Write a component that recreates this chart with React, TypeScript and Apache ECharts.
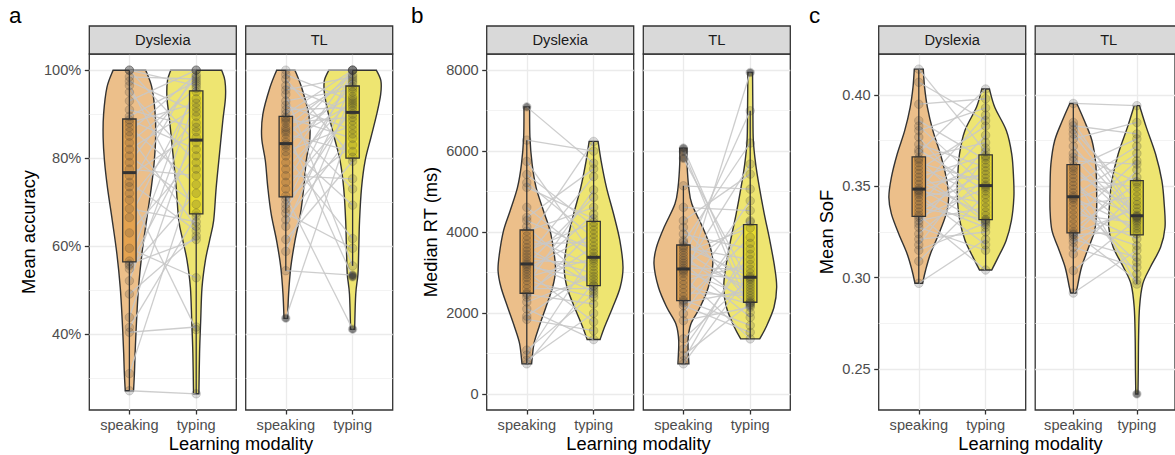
import React, { useEffect, useRef } from 'react';
import * as echarts from 'echarts';

// ---------- labels ----------
const modalities = ['speaking', 'typing'];
const groups = ['Dyslexia', 'TL'];
const xTitle = 'Learning modality';
const panelLetters = ['a', 'b', 'c'];
const yTitles = ['Mean accuracy', 'Median RT (ms)', 'Mean SoF'];
const yTickValues = [[40, 60, 80, 100], [0, 2000, 4000, 6000, 8000], [0.25, 0.3, 0.35, 0.4]];
const yLimits = [[22.72, 103.68], [-400, 8400], [0.2275, 0.4225]];

// ---------- panel a: mean accuracy (%) — paired per participant ----------
const accDysSpeaking = [27.1, 31.0, 40.4, 41.5, 43.8, 49.1, 52.1, 54.8, 55.6, 55.9, 56.6, 59.5, 63, 66.5, 68.5, 70.5, 72, 73.5, 74.5, 76, 77.5, 79, 80.5, 82, 83.5, 85, 86, 87, 88, 88.7, 89.5, 91, 93, 95, 96.5, 97.5, 98.5, 100, 100, 100];
const accDysTyping = [26.4, 77.5, 41.6, 66.8, 88, 62.3, 93.5, 72, 84.7, 61.5, 97, 52.8, 80.5, 95.1, 65.5, 89.5, 41.0, 100, 63.5, 86, 76, 98.5, 69.5, 91.5, 95.9, 64.5, 99, 74, 92.5, 82, 97.5, 87, 100, 79, 67.5, 90.5, 98, 100, 83.5, 96.5];
const accTLSpeaking = [43.6, 54.4, 58.8, 61.5, 64.5, 66, 67.5, 68.5, 69.5, 70.6, 71.4, 73, 74.5, 76, 77.5, 79, 80.5, 81.5, 82.5, 83, 83.6, 84.5, 85.5, 86, 86.5, 87, 88, 88.5, 89, 89.3, 90.1, 91, 92, 93, 94.5, 95.5, 96.5, 98, 99, 100];
const accTLTyping = [88.5, 53.4, 95, 79.3, 97, 85.5, 59.5, 92, 100, 83, 41.1, 90.8, 98, 75.3, 93.5, 100, 61.7, 87.5, 96.2, 69.3, 92.5, 100, 81.5, 94, 53.0, 99, 89.3, 73, 97.5, 84.5, 100, 91.5, 86.5, 95.7, 55.5, 98.5, 90, 80.2, 93, 100];
// box stats: [lower whisker, Q1, median, Q3, upper whisker] for speaking, typing
const accDysBox = [[27.1, 56.4, 76.7, 88.9, 100], [26.4, 67.3, 84.1, 95.3, 100]];
const accTLBox = [[54.4, 71.2, 83.3, 89.5, 100], [55.5, 80.0, 90.4, 96.4, 100]];
const accDysOutliers = [[], []];
const accTLOutliers = [[43.6], [53.0, 53.4, 41.1]];
// violin outlines: [value, half-width in category units]
const accDysSpeakingViolin = [[100, 0.244], [96.1, 0.336], [90, 0.386], [84.7, 0.393], [79.4, 0.373], [73.3, 0.328], [65.8, 0.256], [58.2, 0.187], [50.6, 0.137], [43, 0.107], [35.5, 0.085], [30.9, 0.075], [27.1, 0.062]];
const accDysTypingViolin = [[100, 0.381], [97.6, 0.43], [93.8, 0.438], [88.5, 0.398], [80.9, 0.348], [73.3, 0.299], [65.8, 0.261], [61.2, 0.199], [56.7, 0.137], [50.6, 0.087], [43, 0.067], [35.5, 0.05], [26.4, 0.04]];
const accTLSpeakingViolin = [[100, 0.137], [96.1, 0.236], [90, 0.343], [84.7, 0.361], [79.4, 0.306], [73.3, 0.269], [67.3, 0.219], [61.2, 0.137], [55.2, 0.075], [49.1, 0.042], [43.6, 0.027]];
const accTLTypingViolin = [[100, 0.356], [97.6, 0.423], [94.5, 0.42], [90, 0.361], [84.7, 0.274], [79.4, 0.187], [73.3, 0.134], [65.8, 0.104], [58.2, 0.09], [53.6, 0.08], [49.1, 0.047], [41.1, 0.03]];

// ---------- panel b: median RT (ms) ----------
const rtDysSpeaking = [741, 830, 960, 1080, 1840, 1920, 2100, 2270, 2390, 2460, 2495, 2600, 2700, 2800, 2880, 2950, 3020, 3090, 3150, 3190, 3230, 3300, 3380, 3450, 3530, 3610, 3700, 3800, 3900, 4020, 4130, 4280, 4360, 4610, 5103, 5220, 5420, 5745, 6271, 7093];
const rtDysTyping = [2750, 1990, 3480, 2470, 1560, 3060, 1341, 2900, 4050, 2220, 3650, 2600, 5040, 2390, 3350, 4440, 1780, 3950, 2830, 4860, 2540, 3230, 5370, 2980, 4240, 2680, 3750, 6239, 3150, 4610, 2660, 3560, 5560, 3300, 4330, 3850, 4150, 3400, 6000, 5700];
const rtTLSpeaking = [741, 820, 950, 1110, 1360, 1810, 1980, 2180, 2250, 2290, 2320, 2400, 2500, 2600, 2700, 2800, 2900, 2980, 3030, 3060, 3110, 3170, 3230, 3290, 3350, 3420, 3490, 3560, 3620, 3660, 3740, 3785, 3950, 4115, 4280, 4610, 5142, 5820, 5990, 6074];
const rtTLTyping = [2980, 3720, 2240, 3450, 2860, 2140, 4250, 1520, 2560, 3870, 1690, 4770, 2420, 7943, 2210, 3200, 1358, 2830, 5679, 2350, 3080, 4280, 1890, 2630, 6995, 2180, 4100, 2490, 3320, 2900, 6200, 2770, 3580, 2255, 5430, 4530, 5060, 2700, 2010, 2290];
const rtDysBox = [[741, 2486, 3210, 4049, 6271], [1341, 2675, 3374, 4263, 6239]];
const rtTLBox = [[741, 2304, 3086, 3679, 5142], [1358, 2264, 2881, 4181, 6995]];
const rtDysOutliers = [[7093], []];
const rtTLOutliers = [[5820, 5990, 6074], [7943]];
const rtDysSpeakingViolin = [[7093, 0.042], [6337, 0.047], [5679, 0.08], [5103, 0.139], [4526, 0.249], [4032, 0.348], [3457, 0.41], [3044, 0.43], [2634, 0.386], [2140, 0.286], [1646, 0.182], [1235, 0.107], [741, 0.072]];
const rtDysTypingViolin = [[6239, 0.067], [5760, 0.112], [5103, 0.192], [4444, 0.299], [3785, 0.393], [3128, 0.44], [2634, 0.398], [2140, 0.286], [1646, 0.162], [1341, 0.097]];
const rtTLSpeakingViolin = [[6074, 0.055], [5679, 0.055], [5103, 0.08], [4691, 0.127], [4115, 0.289], [3622, 0.403], [3210, 0.44], [2634, 0.373], [2140, 0.249], [1728, 0.112], [1317, 0.07], [741, 0.082]];
const rtTLTypingViolin = [[7943, 0.035], [6995, 0.04], [6254, 0.047], [5679, 0.082], [5103, 0.137], [4444, 0.211], [3785, 0.294], [3128, 0.366], [2634, 0.396], [2140, 0.356], [1646, 0.236], [1358, 0.142]];

// ---------- panel c: mean SoF ----------
const sofDysSpeaking = [0.2969, 0.309, 0.315, 0.318, 0.321, 0.324, 0.3275, 0.3295, 0.3312, 0.333, 0.3342, 0.336, 0.338, 0.34, 0.342, 0.344, 0.3455, 0.3465, 0.3475, 0.348, 0.349, 0.351, 0.353, 0.355, 0.357, 0.359, 0.361, 0.363, 0.3645, 0.3655, 0.3685, 0.37, 0.373, 0.377, 0.3805, 0.383, 0.386, 0.395, 0.407, 0.4142];
const sofDysTyping = [0.321, 0.3455, 0.33, 0.366, 0.325, 0.3545, 0.315, 0.371, 0.3385, 0.349, 0.3042, 0.3585, 0.332, 0.378, 0.3275, 0.3508, 0.318, 0.3625, 0.341, 0.389, 0.329, 0.3565, 0.334, 0.3668, 0.3308, 0.383, 0.3435, 0.3525, 0.3315, 0.374, 0.4033, 0.3475, 0.3605, 0.336, 0.393, 0.35, 0.3645, 0.398, 0.386, 0.369];
const sofTLSpeaking = [0.2916, 0.3039, 0.313, 0.3166, 0.3193, 0.321, 0.3225, 0.3235, 0.324, 0.325, 0.327, 0.3295, 0.332, 0.3345, 0.337, 0.3395, 0.3415, 0.343, 0.3438, 0.3448, 0.3465, 0.3485, 0.3505, 0.3525, 0.3545, 0.3565, 0.3585, 0.36, 0.3612, 0.364, 0.366, 0.368, 0.372, 0.376, 0.3787, 0.381, 0.3832, 0.385, 0.3954, null];
const sofTLTyping = [0.315, 0.332, 0.347, 0.3057, 0.34, 0.3112, 0.359, 0.3255, 0.338, 0.2984, 0.3515, 0.3175, 0.364, 0.33, 0.3212, 0.3445, 0.3085, 0.355, 0.327, 0.368, 0.302, 0.3336, 0.372, 0.324, 0.3495, 0.2965, 0.336, 0.376, 0.3285, 0.3622, 0.331, 0.3525, 0.3328, 0.385, 0.3333, 0.342, 0.3787, 0.3342, 0.3942, 0.2363];
const sofDysBox = [[0.2969, 0.3336, 0.3485, 0.3662, 0.4142], [0.3042, 0.3318, 0.3504, 0.3673, 0.4033]];
const sofTLBox = [[0.2916, 0.3245, 0.3443, 0.3619, 0.3954], [0.2965, 0.3234, 0.3339, 0.3531, 0.3942]];
const sofDysOutliers = [[], []];
const sofTLOutliers = [[], [0.2363]];
const sofDysSpeakingViolin = [[0.4142, 0.067], [0.4042, 0.087], [0.3933, 0.129], [0.3805, 0.211], [0.3677, 0.323], [0.3549, 0.41], [0.344, 0.448], [0.3349, 0.41], [0.3239, 0.299], [0.313, 0.174], [0.3038, 0.1], [0.2969, 0.057]];
const sofDysTypingViolin = [[0.4033, 0.057], [0.3933, 0.137], [0.3805, 0.311], [0.3677, 0.391], [0.3549, 0.418], [0.344, 0.423], [0.3312, 0.386], [0.3202, 0.306], [0.3111, 0.187], [0.3042, 0.092]];
const sofTLSpeakingViolin = [[0.3954, 0.055], [0.3859, 0.174], [0.375, 0.294], [0.3622, 0.353], [0.3495, 0.366], [0.3367, 0.366], [0.3257, 0.336], [0.3166, 0.241], [0.3057, 0.129], [0.2947, 0.062], [0.2916, 0.04]];
const sofTLTypingViolin = [[0.3942, 0.042], [0.3823, 0.149], [0.3677, 0.294], [0.3531, 0.393], [0.3403, 0.43], [0.3276, 0.443], [0.3166, 0.373], [0.3057, 0.211], [0.2965, 0.092], [0.2838, 0.042], [0.2674, 0.027], [0.2491, 0.022], [0.2363, 0.017]];

// ---------- styling / layout ----------
const FONT = '"Liberation Sans", Arial, Helvetica, sans-serif';
const VIOLIN_FILL = ['#ecbf8a', '#eee571'];
const BOX_FILL = ['#e4a24f', '#e6da2e'];
const DARK = '#333333';
const GRID_COL = '#ebebeb';
const SLOT_COUNT = 12;
const SLOT_POS = [3, 8];
const BOX_WIDTH = 0.2;
const FACET_LEFT = [[89.3, 245.7], [486.7, 643.3], [878.7, 1035.2]];
const FACET_W = 147;
const PLOT_TOP = 54;
const PLOT_H = 356;
const STRIP_TOP = 26;
const STRIP_H = 28;
const Y_TITLE_X = [28.2, 430.6, 826.8];
const LETTER_X = [9, 411, 809];

const slots = Array.from({ length: SLOT_COUNT }, (_, i) =>
  i === SLOT_POS[0] ? modalities[0] : i === SLOT_POS[1] ? modalities[1] : 'slot' + i
);
const isCenter = (i: number) => i === SLOT_POS[0] || i === SLOT_POS[1];

const panels = [
  {
    facets: [
      { speaking: accDysSpeaking, typing: accDysTyping, box: accDysBox, outliers: accDysOutliers, violins: [accDysSpeakingViolin, accDysTypingViolin] },
      { speaking: accTLSpeaking, typing: accTLTyping, box: accTLBox, outliers: accTLOutliers, violins: [accTLSpeakingViolin, accTLTypingViolin] },
    ],
    fmt: (v: number) => `${Math.round(v)}%`,
  },
  {
    facets: [
      { speaking: rtDysSpeaking, typing: rtDysTyping, box: rtDysBox, outliers: rtDysOutliers, violins: [rtDysSpeakingViolin, rtDysTypingViolin] },
      { speaking: rtTLSpeaking, typing: rtTLTyping, box: rtTLBox, outliers: rtTLOutliers, violins: [rtTLSpeakingViolin, rtTLTypingViolin] },
    ],
    fmt: (v: number) => String(Math.round(v)),
  },
  {
    facets: [
      { speaking: sofDysSpeaking, typing: sofDysTyping, box: sofDysBox, outliers: sofDysOutliers, violins: [sofDysSpeakingViolin, sofDysTypingViolin] },
      { speaking: sofTLSpeaking, typing: sofTLTyping, box: sofTLBox, outliers: sofTLOutliers, violins: [sofTLSpeakingViolin, sofTLTypingViolin] },
    ],
    fmt: (v: number) => v.toFixed(2),
  },
];

function catmull(pts: number[][]) {
  let s = '';
  for (let i = 0; i < pts.length - 1; i++) {
    const p0 = pts[i - 1] || pts[i];
    const p1 = pts[i];
    const p2 = pts[i + 1];
    const p3 = pts[i + 2] || p2;
    const c1x = p1[0] + (p2[0] - p0[0]) / 6;
    const c1y = p1[1] + (p2[1] - p0[1]) / 6;
    const c2x = p2[0] - (p3[0] - p1[0]) / 6;
    const c2y = p2[1] - (p3[1] - p1[1]) / 6;
    s += `C${c1x},${c1y} ${c2x},${c2y} ${p2[0]},${p2[1]}`;
  }
  return s;
}

function unitPx(api: any, v: number) {
  return api.coord([SLOT_POS[1], v])[0] - api.coord([SLOT_POS[0], v])[0];
}

function violinRenderer(profiles: number[][][]) {
  return (params: any, api: any) => {
    const k = params.dataIndex;
    const prof = profiles[k];
    const cat = api.value(0);
    const unit = unitPx(api, prof[0][0]);
    const cx = api.coord([cat, prof[0][0]])[0];
    const right = prof.map(([v, w]) => [cx + w * unit, api.coord([cat, v])[1]]);
    const left = prof.map(([v, w]) => [cx - w * unit, api.coord([cat, v])[1]]).reverse();
    const d =
      `M${right[0][0]},${right[0][1]}` + catmull(right) +
      `L${left[0][0]},${left[0][1]}` + catmull(left) + 'Z';
    return {
      type: 'path',
      shape: { pathData: d },
      style: { fill: VIOLIN_FILL[k], stroke: DARK, lineWidth: 1.4 },
    };
  };
}

function boxRenderer(boxes: number[][]) {
  return (params: any, api: any) => {
    const k = params.dataIndex;
    const [lo, q1, med, q3, hi] = boxes[k];
    const cat = api.value(0);
    const unit = unitPx(api, med);
    const cx = api.coord([cat, med])[0];
    const hw = (BOX_WIDTH / 2) * unit;
    const y = (v: number) => api.coord([cat, v])[1];
    const ls = { stroke: DARK, lineWidth: 1.3 };
    return {
      type: 'group',
      children: [
        { type: 'line', shape: { x1: cx, y1: y(hi), x2: cx, y2: y(q3) }, style: ls },
        { type: 'line', shape: { x1: cx, y1: y(q1), x2: cx, y2: y(lo) }, style: ls },
        { type: 'rect', shape: { x: cx - hw, y: y(q3), width: 2 * hw, height: y(q1) - y(q3) }, style: { fill: BOX_FILL[k], stroke: DARK, lineWidth: 1.3 } },
        { type: 'line', shape: { x1: cx - hw, y1: y(med), x2: cx + hw, y2: y(med) }, style: { stroke: DARK, lineWidth: 3 } },
      ],
    };
  };
}

function pairRenderer(params: any, api: any) {
  const a = api.coord([api.value(0), api.value(1)]);
  const b = api.coord([api.value(2), api.value(3)]);
  return {
    type: 'line',
    shape: { x1: a[0], y1: a[1], x2: b[0], y2: b[1] },
    style: { stroke: 'rgba(200,200,200,0.9)', lineWidth: 1.3 },
  };
}

function buildOption() {
  const grid: any[] = [];
  const xAxis: any[] = [];
  const yAxis: any[] = [];
  const series: any[] = [];
  const graphic: any[] = [];

  panels.forEach((panel, pi) => {
    const [ymin, ymax] = yLimits[pi];
    const ticks = yTickValues[pi];
    const labelFmt = (v: number) => (ticks.some((t) => Math.abs(t - v) < 1e-9) ? panel.fmt(v) : '');
    panel.facets.forEach((f, fi) => {
      const gi = grid.length;
      const left = FACET_LEFT[pi][fi];
      grid.push({ left, top: PLOT_TOP, width: FACET_W, height: PLOT_H, show: true, borderColor: DARK, borderWidth: 1.3, backgroundColor: 'transparent' });
      xAxis.push({
        gridIndex: gi, type: 'category', boundaryGap: false, data: slots, position: 'bottom',
        axisLine: { show: false, onZero: false },
        axisTick: { show: true, interval: (i: number) => isCenter(i), length: 4.5, lineStyle: { color: DARK, width: 1.3 } },
        axisLabel: { interval: (i: number) => isCenter(i), color: '#4d4d4d', fontSize: 14.6, fontFamily: FONT, margin: 7 },
        splitLine: { show: true, interval: (i: number) => isCenter(i), lineStyle: { color: GRID_COL, width: 1.3 } },
      });
      yAxis.push({
        gridIndex: gi, type: 'value', min: ymin, max: ymax, splitNumber: 4,
        axisLine: { show: false, onZero: false },
        axisTick: { show: fi === 0, length: 4.5, customValues: ticks, lineStyle: { color: DARK, width: 1.3 } },
        axisLabel: { show: fi === 0, customValues: ticks, formatter: labelFmt, color: '#4d4d4d', fontSize: 14.6, fontFamily: FONT, margin: 8 },
        splitLine: { show: true, lineStyle: { color: GRID_COL, width: 1.3 } },
        minorTick: { show: false, splitNumber: 2 },
        minorSplitLine: { show: true, lineStyle: { color: '#f0f0f0', width: 0.8 } },
      });

      series.push({
        type: 'custom', xAxisIndex: gi, yAxisIndex: gi, z: 2, silent: true,
        data: SLOT_POS.map((s, k) => [s, f.violins[k][0][0]]),
        renderItem: violinRenderer(f.violins),
      });
      const pairs = f.speaking
        .map((sv, i) => [SLOT_POS[0], sv, SLOT_POS[1], f.typing[i]])
        .filter((p) => p[1] != null && p[3] != null);
      series.push({
        type: 'custom', xAxisIndex: gi, yAxisIndex: gi, z: 3, silent: true,
        data: pairs, renderItem: pairRenderer,
      });
      series.push({
        type: 'custom', xAxisIndex: gi, yAxisIndex: gi, z: 4, silent: true,
        data: SLOT_POS.map((s, k) => [s, f.box[k][2]]),
        renderItem: boxRenderer(f.box),
      });
      [f.speaking, f.typing].forEach((vals, k) => {
        series.push({
          type: 'scatter', xAxisIndex: gi, yAxisIndex: gi, z: 5, silent: true,
          symbol: 'circle', symbolSize: 8.5,
          itemStyle: { color: 'rgba(51,51,51,0.22)', borderColor: 'rgba(51,51,51,0.3)', borderWidth: 0.8 },
          data: vals.filter((v) => v != null).map((v) => [SLOT_POS[k], v]),
        });
        series.push({
          type: 'scatter', xAxisIndex: gi, yAxisIndex: gi, z: 6, silent: true,
          symbol: 'circle', symbolSize: 7.5,
          itemStyle: { color: 'rgba(51,51,51,0.65)' },
          data: f.outliers[k].map((v) => [SLOT_POS[k], v]),
        });
      });

      graphic.push({
        type: 'rect', z: 10,
        shape: { x: left, y: STRIP_TOP, width: FACET_W, height: STRIP_H },
        style: { fill: '#d9d9d9', stroke: DARK, lineWidth: 1.3 },
      });
      graphic.push({
        type: 'text', z: 11, x: left + FACET_W / 2, y: STRIP_TOP + STRIP_H / 2 + 0.4,
        style: { text: groups[fi], fill: '#1a1a1a', font: `14.7px ${FONT}`, align: 'center', verticalAlign: 'middle' },
      });
    });

    const l0 = FACET_LEFT[pi][0];
    const l1 = FACET_LEFT[pi][1] + FACET_W;
    graphic.push({
      type: 'text', z: 11, x: (l0 + l1) / 2, y: 443.5,
      style: { text: xTitle, fill: '#000', font: `18.3px ${FONT}`, align: 'center', verticalAlign: 'middle' },
    });
    graphic.push({
      type: 'text', z: 11, x: Y_TITLE_X[pi], y: PLOT_TOP + PLOT_H / 2, rotation: Math.PI / 2,
      style: { text: yTitles[pi], fill: '#000', font: `18.3px ${FONT}`, align: 'center', verticalAlign: 'middle' },
    });
    graphic.push({
      type: 'text', z: 11, x: LETTER_X[pi], y: 15.5,
      style: { text: panelLetters[pi], fill: '#000', font: `22.4px ${FONT}`, align: 'left', verticalAlign: 'middle' },
    });
  });

  return {
    animation: false,
    backgroundColor: '#ffffff',
    textStyle: { fontFamily: FONT },
    grid, xAxis, yAxis, series, graphic,
  };
}

export default function App() {
  const ref = useRef<HTMLDivElement>(null);
  useEffect(() => {
    if (!ref.current) return;
    const chart = echarts.init(ref.current, null, { renderer: 'svg' });
    chart.setOption(buildOption() as any);
    return () => chart.dispose();
  }, []);
  return (
    <div
      ref={ref}
      style={{ position: 'absolute', left: 0, top: 0, width: 1175, height: 455, background: '#fff' }}
    />
  );
}
